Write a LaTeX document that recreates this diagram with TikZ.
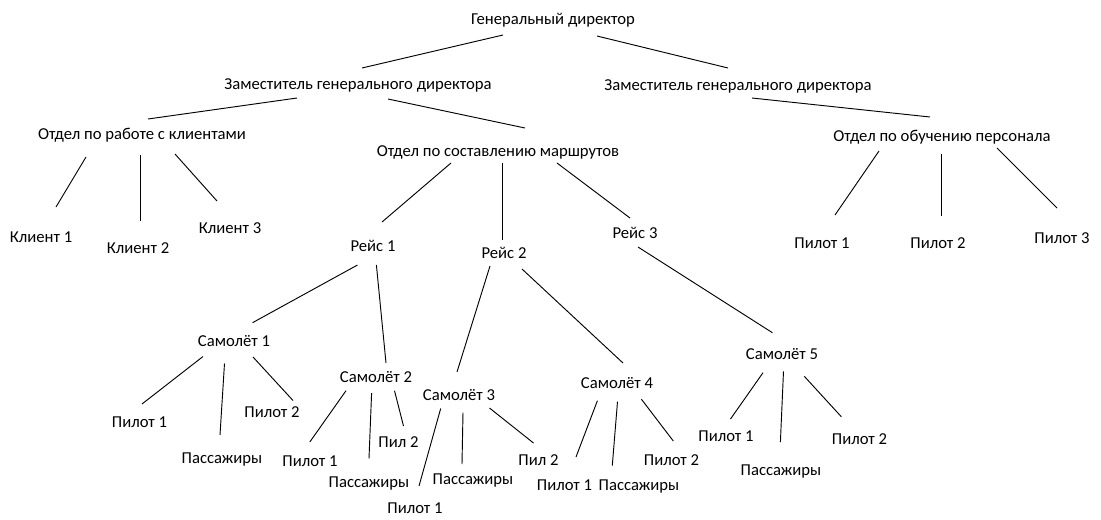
\documentclass[tikz,border=0pt]{standalone}
\usepackage{fontspec}
\setmainfont{Carlito}
\begin{document}
\begin{tikzpicture}[x=0.75pt,y=-0.75pt,
  lbl/.style={inner sep=0pt,anchor=base,font=\fontsize{12.5pt}{15pt}\selectfont},
  conn/.style={line width=0.7pt,draw=black}]
\useasboundingbox (0,0) rectangle (1101,519);
% nodes (base points)
\node[lbl] (gen)  at (553,24) {Генеральный директор};
\node[lbl] (zamL) at (358,89) {Заместитель генерального директора};
\node[lbl] (zamR) at (738,90) {Заместитель генерального директора};
\node[lbl] (otdK) at (142,139) {Отдел по работе с клиентами};
\node[lbl] (otdM) at (498,156) {Отдел по составлению маршрутов};
\node[lbl] (otdO) at (942,141) {Отдел по обучению персонала};
\node[lbl] (k1) at (41,242) {Клиент 1};
\node[lbl] (k2) at (138,253) {Клиент 2};
\node[lbl] (k3) at (230,233) {Клиент 3};
\node[lbl] (r1) at (373,251) {Рейс 1};
\node[lbl] (r2) at (504,258) {Рейс 2};
\node[lbl] (r3) at (635,238) {Рейс 3};
\node[lbl] (op1) at (822,248) {Пилот 1};
\node[lbl] (op2) at (938,248) {Пилот 2};
\node[lbl] (op3) at (1062,243) {Пилот 3};
\node[lbl] (s1) at (234,346) {Самолёт 1};
\node[lbl] (s2) at (376,382) {Самолёт 2};
\node[lbl] (s3) at (459,400) {Самолёт 3};
\node[lbl] (s4) at (617,388) {Самолёт 4};
\node[lbl] (s5) at (782,359) {Самолёт 5};
\node[lbl] (s1p1) at (139.5,427) {Пилот 1};
\node[lbl] (s1pa) at (222,463) {Пассажиры};
\node[lbl] (s1p2) at (272,417) {Пилот 2};
\node[lbl] (s2p1) at (310,466) {Пилот 1};
\node[lbl] (s2pa) at (369,487) {Пассажиры};
\node[lbl] (s2p2) at (398.5,447) {Пил 2};
\node[lbl] (s3p1) at (415,513) {Пилот 1};
\node[lbl] (s3pa) at (473,484) {Пассажиры};
\node[lbl] (s3p2) at (538.5,465) {Пил 2};
\node[lbl] (s4p1) at (564.5,490) {Пилот 1};
\node[lbl] (s4pa) at (639,490) {Пассажиры};
\node[lbl] (s4p2) at (671.5,465) {Пилот 2};
\node[lbl] (s5p1) at (726,441) {Пилот 1};
\node[lbl] (s5pa) at (781,475) {Пассажиры};
\node[lbl] (s5p2) at (859.5,444) {Пилот 2};
% connectors
\newcommand{\lnk}[4]{\draw[conn] ([shift={(#2)}]#1.base) -- ([shift={(#4)}]#3.base);}
\lnk{gen}{-50,11}{zamL}{4,-21}
\lnk{gen}{44,12}{zamR}{-10,-22}
\lnk{zamL}{-61,9}{otdK}{6,-20}
\lnk{zamL}{30,10}{otdM}{27,-28}
\lnk{zamR}{14,8}{otdO}{-12,-24}
\lnk{otdK}{-56,18}{k1}{15,-35}
\lnk{otdK}{-2,16}{k2}{2,-32}
\lnk{otdK}{33,15}{k3}{-13,-32}
\lnk{otdM}{-47,7}{r1}{9,-29}
\lnk{otdM}{4,7}{r2}{-2,-18}
\lnk{otdM}{59,7}{r3}{-5,-20}
\lnk{otdO}{-63,10}{op1}{13,-33}
\lnk{otdO}{-1,13}{op2}{3,-32}
\lnk{otdO}{55,7}{op3}{-5,-35}
\lnk{r1}{-15.5,14}{s1}{18.5,-23.3}
\lnk{r1}{3.4,14}{s2}{10,-19}
\lnk{r2}{-14,8}{s3}{-2,-28}
\lnk{r2}{18,11}{s4}{6,-25}
\lnk{r3}{3,9}{s5}{-9.6,-26.3}
\lnk{s1}{-31,10.5}{s1p1}{2.5,-23}
\lnk{s1}{-9.5,17.5}{s1pa}{-2,-28}
\lnk{s1}{19,11}{s1p2}{21,-16.5}
\lnk{s2}{-30,8.7}{s2p1}{-0.2,-24}
\lnk{s2}{-4.4,11}{s2pa}{0,-28.5}
\lnk{s2}{18.5,8.7}{s2p2}{5,-21}
\lnk{s3}{-18.3,8.5}{s3p1}{4,-27}
\lnk{s3}{4,12.5}{s3pa}{-11,-20}
\lnk{s3}{30.5,8}{s3p2}{-5,-22}
\lnk{s4}{-19.6,12.7}{s4p1}{11.5,-33}
\lnk{s4}{0.5,13.7}{s4pa}{-26.7,-24.5}
\lnk{s4}{24.4,11.2}{s4p2}{1.8,-24}
\lnk{s5}{-19,13.7}{s5p1}{4.5,-22}
\lnk{s5}{1.5,12.3}{s5pa}{-0.6,-33}
\lnk{s5}{22.3,17.3}{s5p2}{-18.2,-27.3}
\end{tikzpicture}
\end{document}
